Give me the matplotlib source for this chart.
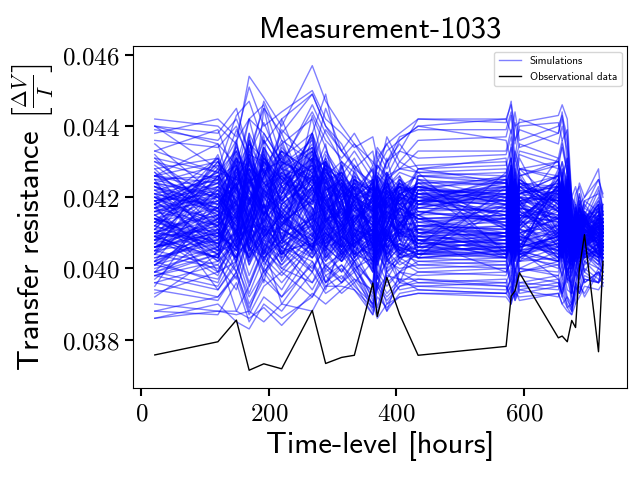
import matplotlib
matplotlib.use("Agg")
import matplotlib.pyplot as plt
import numpy as np

plt.rcParams['mathtext.fontset'] = 'cm'
plt.rcParams['axes.formatter.use_mathtext'] = True
plt.rcParams['axes.unicode_minus'] = False

# measurement times [hours]
hours = np.array([21, 120, 149, 169, 192, 220, 268, 289, 314, 334, 363, 370, 385, 405,
                  434, 572, 580, 586, 593, 654, 660, 668, 675, 681, 687, 695, 717, 724])

# observational transfer resistance (units of 1e-5)
obs = np.array([3757, 3794, 3855, 3714, 3732, 3718, 3882, 3733, 3750, 3756, 3959, 3865, 3975, 3871,
                3756, 3781, 3922, 3937, 3988, 3805, 3810, 3794, 3854, 3834, 4000, 4095, 3766, 4020]) * 1e-5

# simulated transfer resistance, one row per simulation (units of 1e-5)
sims = np.array([
    [4160,4210,4120,4230,4080,4180,4250,4130,4170,4110,4090,4150,4200,4130,4160,4140,4180,4090,4170,4150,4110,4190,4080,4120,4060,4140,4100,4090],
    [4030,4080,4150,4010,4120,4060,3990,4100,4040,4070,4120,3980,4060,4030,4050,4060,4010,4100,4040,4080,4130,4020,4010,4070,4110,4030,4060,4080],
    [4280,4310,4220,4360,4270,4330,4190,4290,4240,4200,4170,4260,4230,4270,4250,4230,4290,4210,4260,4300,4240,4200,4150,4100,4170,4120,4180,4140],
    [3960,4010,3940,4060,3990,3920,4050,3980,4010,3970,3940,4020,3960,3990,3980,3990,4030,3950,4000,3980,3940,3970,3920,4010,3980,4040,4000,3990],
    [4400,4380,4450,4320,4410,4290,4460,4380,4300,4270,4200,4310,4260,4330,4420,4410,4470,4350,4420,4380,4440,4300,4180,4150,4200,4130,4220,4170],
    [3880,3870,3960,3850,3920,3880,3990,3930,3960,3990,3880,3950,3910,3950,3960,3950,3920,3990,3940,3960,3930,3900,3880,3960,3930,3980,3960,4010],
    [4120,4060,4180,4090,4230,4110,4050,4170,4120,4080,4150,4040,4110,4160,4100,4110,4060,4150,4080,4120,4070,4140,4040,4090,4130,4070,4110,4060],
    [4180,4240,4290,4150,4320,4210,4380,4240,4190,4230,4180,4110,4220,4170,4200,4190,4240,4160,4210,4240,4190,4260,4110,4160,4100,4180,4130,4160],
    [4020,3960,4080,4120,3990,4060,4020,3960,4050,4000,3920,4070,4020,4000,4010,4020,3980,4060,3990,4010,4060,3960,3990,4030,3970,4010,4050,4020],
    [4330,4270,4360,4420,4260,4390,4300,4450,4330,4280,4240,4190,4300,4350,4280,4290,4340,4260,4320,4280,4350,4270,4200,4140,4190,4150,4120,4180],
    [4100,4150,4070,4200,4130,4260,4170,4080,4140,4190,4060,4130,4170,4090,4120,4130,4180,4100,4150,4110,4170,4080,4120,4060,4100,4140,4080,4120],
    [3930,3990,4020,3900,3980,4050,3940,4010,3970,4020,3960,3890,3990,3940,3950,3960,3910,4000,3950,3970,3920,3990,3950,3900,4020,3960,3990,3950],
    [4210,4160,4240,4130,4280,4190,4320,4150,4230,4170,4210,4140,4080,4200,4180,4170,4230,4140,4200,4160,4220,4130,4070,4130,4080,4160,4110,4090],
    [4060,4110,4020,4170,4060,4120,4210,4030,4090,4060,4130,4010,4100,4040,4070,4080,4040,4120,4060,4090,4030,4110,4020,4080,4050,4100,4070,4040],
    [4420,4400,4350,4540,4480,4400,4570,4470,4400,4350,4300,4280,4330,4360,4400,4420,4380,4440,4360,4400,4430,4370,4200,4230,4180,4200,4280,4150],
    [3860,3900,3850,3830,3900,3860,3920,3980,3930,3960,3870,3940,3880,3930,3940,3930,3950,3910,3940,3920,3960,3890,3870,3930,3960,3920,3990,3970],
    [4240,4200,4310,4180,4260,4330,4230,4280,4190,4240,4160,4250,4200,4230,4220,4210,4250,4180,4240,4220,4180,4250,4130,4080,4140,4100,4170,4130],
    [4000,4050,4100,3980,4080,4010,4130,4050,3990,4060,4010,4090,3970,4030,4040,4030,4080,4000,4050,4020,4070,3990,4030,3980,4080,4040,4010,4060],
    [4170,4120,4190,4250,4150,4080,4200,4130,4180,4120,4060,4180,4130,4170,4140,4150,4100,4190,4120,4160,4100,4170,4060,4110,4060,4120,4150,4100],
    [4260,4300,4230,4380,4290,4350,4420,4270,4230,4290,4210,4270,4240,4300,4270,4260,4310,4220,4280,4250,4300,4220,4160,4120,4180,4110,4150,4130],
    [3960,3920,3990,3880,4000,3940,4080,3960,4000,3950,3900,3980,3930,3970,3940,3930,3980,3920,3960,3950,3990,3920,3900,3960,3940,4000,3970,3960],
    [4080,4130,4060,4110,4180,4040,4150,4090,4120,4070,4110,4150,4060,4100,4090,4100,4140,4060,4110,4080,4120,4050,4100,4060,4120,4080,4050,4100],
    [4360,4340,4400,4300,4470,4360,4300,4390,4330,4290,4230,4300,4350,4280,4330,4330,4390,4300,4350,4310,4360,4280,4190,4150,4210,4130,4180,4140],
    [3990,4040,3970,4090,4020,3960,4060,4010,4040,3990,4060,3970,4020,4060,4010,4000,4050,3980,4030,4010,3980,4040,3980,4030,4000,4050,4020,3990],
    [4140,4190,4230,4100,4210,4160,4270,4180,4120,4170,4230,4100,4160,4140,4160,4170,4120,4200,4140,4180,4130,4200,4100,4050,4110,4070,4130,4110],
    [4090,4030,4140,4060,4000,4130,4080,4150,4050,4100,3990,4080,4120,4050,4060,4050,4090,4020,4070,4040,4090,4010,4040,4090,4030,4070,4100,4060],
    [4220,4260,4190,4320,4240,4290,4360,4210,4270,4220,4280,4190,4240,4210,4240,4250,4200,4280,4230,4260,4210,4280,4140,4100,4150,4090,4140,4120],
    [4010,3970,4060,3950,4050,4000,3960,4040,3990,4030,3950,4050,3990,4020,3990,3980,4030,3960,4000,3990,4040,3970,3960,4000,4050,3990,3960,4030],
    [4130,4090,4160,4070,4150,4220,4100,4190,4100,4140,4090,4020,4130,4100,4110,4120,4070,4150,4100,4140,4080,4150,4080,4130,4090,4110,4070,4130],
    [4170,4220,4150,4280,4200,4140,4250,4190,4230,4170,4120,4210,4170,4210,4190,4200,4160,4230,4180,4220,4170,4240,4090,4140,4100,4150,4090,4140],
    [4050,4010,4090,4030,4110,4000,4070,4020,4070,4020,4080,3970,4050,4010,4040,4050,4010,4080,4020,4060,4010,4080,4010,4070,4020,4060,4030,4070],
    [4380,4420,4370,4510,4400,4440,4500,4420,4380,4340,4370,4310,4350,4380,4420,4420,4460,4400,4410,4430,4460,4420,4200,4180,4240,4200,4250,4210],
    [3900,3880,3880,3860,3890,3840,3930,3900,3940,3970,3900,3860,3900,3920,3930,3920,3900,3940,3910,3930,3900,3880,3870,3900,3920,3950,3940,3960],
    [4110,4150,4190,4060,4180,4120,4230,4140,4160,4100,4140,4070,4150,4120,4130,4140,4190,4100,4150,4130,4170,4110,4050,4100,4140,4080,4120,4070],
    [4300,4250,4340,4260,4380,4300,4240,4330,4260,4310,4200,4290,4250,4280,4270,4280,4230,4310,4260,4290,4250,4310,4150,4110,4170,4140,4190,4150],
    [4040,4000,4060,4120,4010,4080,4030,4090,4020,4050,4000,4090,4030,3990,4020,4030,4070,3990,4040,4000,4060,3980,4000,4050,3990,4040,4070,4000],
    [4230,4180,4260,4190,4300,4230,4310,4200,4250,4200,4240,4170,4210,4250,4210,4220,4270,4190,4230,4210,4260,4180,4120,4160,4110,4170,4140,4110],
    [4100,4070,4030,4160,4090,4150,4060,4120,4080,4040,4100,4060,4090,4130,4080,4070,4110,4040,4090,4070,4030,4110,4030,4080,4130,4060,4040,4090],
    [3990,3950,4040,3930,4030,3980,4070,3960,4010,3960,4020,3940,3980,3970,3970,3960,4000,3940,3980,3960,3930,4000,3940,3990,3970,4020,3980,4010],
    [4150,4200,4140,4250,4170,4230,4180,4260,4170,4130,4200,4120,4180,4150,4170,4160,4210,4130,4190,4170,4210,4140,4090,4040,4100,4060,4110,4080],
    [4260,4220,4280,4170,4310,4250,4330,4240,4210,4250,4190,4240,4270,4210,4230,4240,4280,4200,4240,4230,4200,4260,4160,4120,4170,4130,4200,4150],
    [4080,4120,4170,4070,4140,4190,4110,4060,4110,4150,4080,4160,4090,4120,4100,4090,4130,4070,4120,4100,4140,4060,4060,4120,4080,4130,4100,4060],
    [3940,3910,3990,3890,3970,3920,4010,3950,3980,3940,3890,3960,3920,3960,3950,3940,3970,3910,3950,3940,3970,3910,3890,3950,3930,3970,3960,3980],
    [4070,4030,4110,4010,4090,4040,4170,4060,4020,4080,4030,4100,4040,4070,4050,4060,4020,4090,4050,4070,4030,4090,4000,4060,4030,4080,4040,4020],
    [4400,4350,4290,4420,4380,4300,4440,4360,4310,4350,4270,4240,4300,4330,4310,4320,4370,4280,4330,4300,4340,4270,4170,4130,4190,4120,4160,4180],
    [4130,4170,4100,4260,4160,4110,4230,4180,4140,4180,4120,4190,4140,4170,4150,4160,4120,4200,4140,4170,4130,4190,4060,4110,4070,4130,4090,4120],
    [3980,4020,4070,3960,4060,3990,4100,4000,4050,4010,3960,4040,4000,4030,4000,4010,3970,4040,3990,4020,4060,3970,3980,4040,4010,4060,4030,3990],
    [4240,4290,4220,4350,4270,4210,4380,4280,4250,4200,4250,4160,4260,4230,4260,4270,4310,4240,4280,4260,4300,4230,4140,4180,4130,4190,4160,4130],
    [4140,4100,4210,4120,4060,4170,4090,4160,4110,4150,4040,4130,4160,4100,4120,4110,4150,4080,4130,4120,4090,4160,4070,4120,4160,4090,4130,4100],
    [3860,3880,3870,3880,3850,3900,3880,3950,3950,3940,3870,3920,3890,3920,3930,3930,3910,3930,3920,3930,3900,3920,3880,3940,3950,3930,4000,3990],
    [4390,4360,4420,4330,4450,4380,4490,4400,4330,4380,4290,4340,4300,4370,4390,4390,4440,4360,4390,4350,4400,4330,4190,4160,4210,4150,4230,4160],
    [4060,4100,4050,4130,4040,4100,4140,4070,4110,4060,4120,4040,4080,4110,4080,4090,4050,4120,4080,4100,4050,4120,4050,4100,4060,4110,4080,4050],
    [4190,4230,4180,4280,4220,4170,4260,4200,4240,4190,4230,4160,4200,4230,4200,4210,4170,4240,4190,4220,4180,4230,4110,4150,4090,4160,4120,4150],
    [3980,3940,4010,3920,3990,4050,3960,4010,3960,4000,3930,3990,3950,3990,3960,3970,3930,4000,3960,3980,4010,3940,3930,3980,4010,3960,3990,3970],
    [4160,4120,4180,4100,4200,4130,4190,4110,4170,4120,4180,4090,4140,4170,4140,4150,4190,4110,4160,4140,4180,4110,4060,4110,4070,4130,4090,4130],
    [4010,4060,3990,4090,4030,4080,4000,4060,4020,4070,3990,4060,4010,4040,4030,4020,4070,3990,4040,4020,4050,3990,4020,4060,4000,4050,4010,4040],
    [4310,4270,4330,4240,4360,4280,4340,4260,4300,4250,4220,4290,4260,4280,4290,4300,4250,4330,4280,4300,4260,4310,4170,4130,4180,4140,4170,4130],
    [4090,4140,4060,4190,4100,4160,4050,4130,4090,4130,4070,4120,4080,4110,4110,4100,4140,4070,4110,4090,4130,4060,4080,4040,4110,4070,4120,4080],
    [4210,4170,4240,4150,4220,4180,4260,4190,4130,4080,4020,3870,4000,4120,4190,4180,4230,4150,4200,4190,4160,4220,3900,3950,4050,4100,4140,4110],
    [4060,4100,4030,4150,4070,4010,4090,4140,4060,4020,3890,3960,3880,3990,4050,4040,3930,4060,4020,4030,3970,4050,3880,3960,4000,4050,4080,4030],
    [4210,4050,4290,4120,4330,4080,4260,4350,4110,4180,4020,4210,4090,4180,4230,4050,4220,4130,4060,4190,4240,4100,4010,4140,4090,4060,4150,4080],
    [4020,4230,4110,4310,4150,4270,4090,4180,4240,4060,4170,4080,4220,4100,4070,4200,4090,4230,4180,4070,4130,4220,4130,4050,4130,4140,4030,4120],
    [4280,4110,4050,4190,4260,4380,4170,4100,4290,4200,4100,4250,4050,4130,4210,4120,4290,4060,4210,4260,4050,4170,4070,4110,4040,4080,4120,4060],
    [3990,4180,4240,4050,4100,4210,4330,4260,4070,4130,4230,3990,4180,4240,4050,4180,4020,4170,4100,4140,4270,4040,4120,4020,4160,4120,4070,4140],
    [4120,4290,4160,4380,4090,4150,4230,4050,4180,4270,4060,4150,4260,4080,4150,4030,4170,4240,4050,4220,4100,4230,4050,4130,4080,4030,4180,4100],
    [4250,3990,4110,4230,4370,4020,4150,4300,4190,4090,4170,4060,4120,4200,4280,4240,4110,4030,4260,4080,4180,4060,4100,4060,4140,4150,4060,4070],
    [4060,4140,4320,4100,4200,4290,4040,4180,4120,4230,4000,4190,4130,4050,4120,4140,4260,4150,4090,4170,4230,4120,4020,4170,4060,4100,4130,4110],
    [4190,4070,4200,4280,4040,4180,4380,4220,4030,4140,4190,4090,4240,4170,4040,4070,4180,4210,4140,4030,4150,4190,4140,4090,4110,4070,4090,4050],
    [3950,4210,4080,4150,4300,4250,4120,4310,4160,4070,4110,4220,4030,4120,4190,4190,4050,4100,4230,4140,4060,4260,4060,4030,4150,4120,4160,4100],
    [4320,4130,4230,4040,4180,4330,4270,4090,4220,4160,4050,4030,4170,4230,4100,4100,4230,4040,4120,4250,4190,4040,4110,4150,4070,4090,4040,4130],
    [4080,4260,4140,4270,4110,4040,4190,4280,4060,4200,4240,4140,4080,4060,4260,4250,4080,4190,4070,4110,4210,4140,4030,4100,4120,4140,4100,4070],
    [4170,4020,4270,4190,4240,4200,4060,4150,4300,4110,4080,4180,4210,4150,4080,4030,4140,4280,4190,4060,4100,4210,4090,4060,4040,4060,4140,4110],
    [4230,4170,4010,4330,4160,4110,4300,4190,4100,4250,4150,4070,4120,4250,4170,4160,4310,4080,4150,4200,4040,4090,4160,4120,4170,4110,4080,4040],
    [4040,4320,4180,4090,4260,4360,4150,4040,4190,4090,4200,4230,4160,4090,4220,4220,4040,4160,4270,4090,4220,4170,4040,4070,4090,4130,4170,4090],
    [4140,4090,4260,4200,4060,4240,4350,4230,4130,4170,4030,4100,4270,4200,4110,4080,4200,4110,4040,4280,4140,4030,4080,4170,4140,4050,4060,4120],
    [4300,4190,4120,4050,4340,4170,4080,4320,4250,4040,4160,4200,4020,4130,4060,4270,4130,4250,4180,4150,4070,4240,4120,4040,4060,4100,4110,4060],
    [4010,4140,4350,4220,4140,4070,4260,4110,4060,4220,4250,4050,4150,4190,4230,4140,4250,4030,4140,4040,4250,4110,4020,4090,4180,4080,4150,4130],
    [4260,4240,4090,4310,4210,4300,4130,4160,4210,4130,4090,4260,4220,4040,4140,4050,4100,4200,4220,4190,4120,4060,4150,4130,4100,4160,4030,4080],
    [4090,4030,4230,4130,4280,4190,4310,4050,4280,4070,4180,4120,4080,4210,4090,4210,4170,4140,4080,4230,4190,4180,4070,4060,4070,4040,4120,4100],
    [4180,4270,4150,4260,4020,4120,4210,4290,4150,4190,4040,4170,4250,4110,4250,4120,4040,4260,4160,4100,4030,4230,4100,4110,4150,4130,4090,4060],
    [3970,4110,4300,4080,4230,4260,4140,4200,4080,4260,4220,4060,4110,4160,4150,4060,4230,4070,4250,4160,4260,4050,4030,4180,4050,4070,4140,4120],
    [4240,4160,4060,4370,4120,4050,4290,4130,4230,4100,4070,4230,4180,4080,4030,4230,4120,4180,4110,4050,4160,4200,4140,4040,4120,4110,4070,4090],
    [4110,4300,4210,4140,4310,4230,4050,4250,4110,4150,4130,4110,4040,4230,4200,4150,4060,4220,4040,4270,4090,4130,4080,4140,4090,4150,4160,4050],
    [4050,4080,4280,4250,4150,4340,4240,4070,4170,4030,4210,4190,4270,4140,4080,4100,4280,4050,4190,4120,4220,4090,4050,4070,4170,4090,4100,4140],
    [4350,4200,4140,4180,4250,4090,4370,4180,4260,4220,4060,4080,4150,4200,4270,4040,4150,4240,4130,4030,4080,4250,4120,4100,4060,4070,4050,4070],
    [4150,4050,4240,4060,4360,4280,4130,4300,4060,4120,4250,4150,4190,4050,4180,4260,4070,4130,4280,4180,4140,4040,4040,4160,4130,4120,4140,4110],
    [4070,4220,4100,4300,4180,4030,4230,4140,4290,4180,4100,4240,4060,4170,4040,4170,4210,4090,4060,4240,4280,4160,4090,4030,4110,4060,4090,4080],
    [4200,4120,4330,4170,4040,4210,4290,4210,4130,4060,4150,4010,4230,4260,4120,4090,4110,4270,4170,4060,4050,4220,4150,4090,4070,4140,4180,4040],
    [4130,4310,4070,4230,4270,4150,4060,4080,4200,4240,4080,4200,4130,4100,4240,4240,4180,4020,4200,4140,4170,4070,4060,4150,4160,4080,4040,4120],
    [4270,4060,4190,4110,4130,4320,4200,4260,4040,4160,4190,4130,4210,4190,4060,4050,4300,4160,4050,4210,4110,4190,4100,4120,4040,4050,4130,4080],
    [3880,3920,3980,3870,3950,3990,3920,4000,3960,4020,3910,3980,3900,3950,3970,3950,3900,3980,3930,3950,3920,3890,3900,3950,3930,3970,3960,3980],
    [4400,4280,4430,4470,4350,4420,4490,4400,4350,4280,4330,4250,4370,4300,4360,4370,4430,4310,4400,4410,4360,4390,4150,4210,4230,4170,4250,4200],
    [3920,4040,3880,3950,4060,3900,4020,3940,4080,3990,3900,3950,4030,3960,3990,4000,3960,3920,4050,3970,3930,4020,3930,3990,3960,4020,4000,4030],
    [4330,4390,4250,4420,4460,4310,4380,4490,4280,4330,4250,4330,4280,4360,4400,4360,4300,4410,4340,4380,4420,4350,4200,4170,4130,4190,4210,4150],
    [4100,4160,4360,4190,4090,4420,4210,4150,4080,4200,4280,4090,4120,4210,4160,4130,4190,4060,4140,4230,4060,4180,3930,4080,4110,4150,4140,4110],
    [4180,3940,4020,4260,4170,4090,3990,4070,4190,4050,3950,4160,3990,4040,4020,4010,4100,4180,4000,4050,4170,3970,4070,3990,4100,4070,4020,4070],
    [4260,4350,4170,4090,4450,4230,4290,4170,4120,4280,4160,4210,4310,4170,4280,4310,4140,4240,4310,4100,4280,4210,4180,4100,4060,4120,4180,4100],
    [4020,4110,3990,4100,3960,4180,4120,3990,4030,4100,3990,4050,4070,3960,4080,3990,4020,4090,4020,4130,3990,4080,3950,4040,4050,3990,4060,4030],
    [4200,4250,4390,4310,4180,4060,4430,4340,4220,4190,4290,4240,4140,4260,4180,4190,4350,4270,4160,4310,4140,4290,4110,4090,4170,4110,4190,4160],
    [4090,3980,4100,4030,4220,4140,4050,4230,4150,4000,4030,3940,4110,4030,4110,4040,4000,4120,4050,4020,4110,4000,4000,4050,4020,4070,4080,4010],
    [4150,4240,4190,4080,4310,4140,4220,4180,4100,4210,4150,4080,4190,4110,4170,4210,4130,4160,4220,4110,4190,4140,4070,4120,4090,4110,4060,4100],
    [4220,4100,4270,4210,4150,4250,4180,4280,4170,4090,4120,4190,4100,4170,4130,4090,4200,4230,4110,4200,4130,4070,4110,4050,4120,4080,4140,4090],
    [4080,4190,4130,4300,4220,4080,4310,4130,4210,4160,4200,4120,4230,4140,4200,4150,4240,4090,4170,4140,4240,4180,4060,4100,4080,4130,4100,4120],
    [4190,4060,4220,4160,4260,4310,4110,4210,4140,4230,4070,4230,4150,4080,4110,4180,4070,4200,4140,4230,4080,4200,4090,4140,4060,4090,4120,4070],
    [4110,4280,4090,4240,4170,4200,4260,4090,4240,4120,4190,4050,4200,4190,4240,4110,4220,4140,4080,4150,4200,4120,4130,4080,4140,4140,4080,4110],
    [4270,4150,4310,4130,4210,4160,4240,4240,4080,4200,4130,4160,4090,4220,4150,4230,4150,4060,4190,4090,4160,4240,4050,4130,4100,4060,4130,4090],
    [4040,4210,4160,4270,4090,4230,4150,4170,4190,4080,4250,4120,4160,4130,4090,4080,4190,4250,4150,4210,4110,4090,4100,4060,4050,4120,4110,4130],
    [4200,4130,4250,4180,4290,4120,4330,4140,4150,4230,4050,4210,4250,4080,4220,4260,4100,4180,4230,4160,4210,4150,4080,4150,4130,4100,4070,4080],
    [4130,4250,4070,4340,4200,4270,4210,4270,4220,4140,4180,4090,4120,4240,4180,4160,4240,4120,4060,4240,4140,4190,4140,4070,4090,4140,4150,4100],
    [4240,4080,4200,4120,4240,4190,4280,4110,4120,4190,4140,4200,4180,4130,4120,4110,4170,4220,4180,4100,4260,4110,4060,4110,4150,4080,4090,4120],
    [4060,4170,4280,4220,4150,4350,4160,4220,4250,4110,4090,4170,4220,4160,4230,4200,4090,4170,4200,4190,4090,4220,4110,4140,4070,4110,4130,4060],
    [4180,4310,4140,4090,4320,4180,4250,4190,4090,4240,4220,4110,4080,4210,4100,4140,4210,4130,4150,4130,4180,4170,4070,4090,4110,4150,4060,4110],
    [4310,4140,4230,4290,4110,4240,4370,4150,4190,4160,4120,4250,4150,4090,4260,4240,4140,4190,4120,4220,4230,4100,4130,4060,4130,4070,4140,4090],
    [4100,4220,4180,4150,4260,4130,4190,4300,4130,4090,4210,4140,4240,4180,4140,4090,4260,4100,4240,4170,4120,4230,4090,4120,4080,4100,4110,4130],
    [4200,4090,4350,4210,4190,4290,4140,4230,4200,4210,4100,4180,4120,4250,4190,4180,4120,4250,4160,4090,4200,4140,4050,4150,4140,4120,4080,4080],
    [4050,4260,4210,4320,4130,4200,4300,4160,4060,4140,4170,4060,4200,4120,4210,4230,4180,4150,4210,4260,4150,4080,4120,4070,4100,4130,4160,4110],
    [4260,4180,4120,4240,4280,4080,4220,4260,4170,4250,4060,4220,4170,4200,4100,4120,4230,4080,4130,4140,4250,4190,4080,4110,4060,4090,4100,4070],
    [4140,4040,4260,4190,4340,4250,4170,4120,4230,4100,4230,4130,4090,4140,4250,4200,4080,4230,4190,4200,4070,4160,4100,4130,4120,4140,4070,4120],
    [4170,4200,4090,4360,4180,4150,4280,4200,4110,4170,4140,4260,4210,4230,4160,4130,4200,4160,4100,4120,4190,4210,4070,4090,4150,4080,4130,4090],
    [4090,4300,4230,4130,4220,4320,4110,4250,4270,4130,4190,4080,4140,4100,4190,4250,4160,4110,4250,4180,4220,4100,4110,4060,4090,4120,4090,4140],
    [4230,4120,4310,4260,4150,4210,4340,4120,4160,4220,4090,4190,4260,4190,4130,4150,4290,4220,4130,4230,4140,4230,4140,4120,4070,4060,4120,4080],
    [4120,4230,4200,4180,4330,4140,4230,4290,4200,4060,4260,4110,4190,4120,4220,4110,4120,4190,4180,4080,4190,4140,4060,4080,4140,4100,4150,4100],
    [4290,4160,4140,4280,4210,4260,4190,4200,4130,4180,4120,4240,4100,4200,4170,4210,4210,4140,4230,4160,4240,4170,4100,4150,4110,4130,4060,4120],
    [4070,4280,4250,4200,4120,4300,4250,4160,4210,4200,4160,4150,4230,4150,4140,4140,4160,4250,4110,4210,4100,4120,4090,4060,4080,4150,4110,4090],
    [4180,4140,4180,4310,4240,4150,4310,4230,4180,4130,4200,4090,4180,4240,4210,4170,4230,4120,4170,4140,4210,4200,4070,4110,4120,4090,4140,4100],
    [4250,4260,4100,4220,4170,4280,4150,4270,4240,4170,4130,4230,4140,4100,4180,4230,4090,4200,4210,4190,4160,4130,4120,4140,4060,4110,4080,4130],
    [4140,4070,4290,4150,4300,4190,4270,4140,4120,4250,4210,4120,4200,4180,4140,4100,4200,4240,4130,4250,4140,4220,4080,4070,4130,4140,4120,4070],
    [4210,4250,4160,4250,4200,4240,4220,4190,4220,4110,4150,4210,4120,4220,4230,4190,4250,4150,4200,4130,4230,4150,4100,4130,4090,4070,4100,4110],
    [4100,4170,4220,4190,4270,4120,4300,4250,4150,4190,4100,4170,4250,4130,4150,4250,4140,4180,4240,4170,4110,4190,4130,4090,4110,4120,4140,4090],
    [4190,4210,4130,4300,4150,4270,4190,4170,4260,4140,4240,4140,4160,4210,4190,4120,4220,4210,4120,4220,4200,4120,4060,4150,4140,4100,4060,4120],
    [4080,4030,4120,4060,4140,4040,4110,4070,4100,4040,4070,4010,4090,4050,4080,4070,4030,4100,4060,4090,4040,4070,4020,4060,4050,4080,4040,4070],
    [4010,4100,4050,4130,4030,4110,4060,4140,4040,4090,4020,4080,4040,4100,4030,4040,4090,4030,4100,4030,4080,4030,4050,4020,4080,4040,4070,4030],
    [4110,4040,4160,4020,4090,4150,4030,4080,4110,4030,4090,4040,4110,4020,4090,4100,4050,4080,4030,4110,4060,4100,3990,4080,4030,4060,4090,4050],
    [4040,4140,4020,4100,4160,4060,4130,4030,4080,4120,4000,4110,4060,4080,4050,4030,4110,4060,4080,4050,4100,4010,4060,4040,4060,4030,4050,4080],
    [4130,4070,4100,4150,4050,4130,4080,4120,4020,4080,4110,4030,4080,4130,4070,4080,4040,4110,4050,4070,4020,4090,4030,4070,4020,4090,4060,4040],
    [3990,4060,4140,4030,4120,4020,4160,4060,4130,4040,4060,4090,4020,4060,4040,4060,4080,4020,4090,4060,4070,4040,4000,4050,4070,4050,4020,4060],
    [4070,4120,4030,4090,4040,4140,4070,4100,4060,4110,4030,4060,4120,4040,4100,4050,4110,4070,4040,4100,4030,4080,4050,4010,4040,4080,4080,4050],
    [4100,3990,4090,4140,4080,4060,4120,4020,4090,4060,4100,4020,4070,4110,4060,4090,4030,4090,4070,4040,4090,4060,4020,4080,4060,4020,4060,4070],
    [4020,4090,4160,4050,4110,4100,4040,4130,4030,4080,4050,4100,4030,4070,4040,4040,4100,4050,4030,4080,4060,4020,4040,4050,4090,4060,4040,4030],
    [4120,4050,4070,4110,4020,4150,4090,4060,4120,4030,4080,4050,4100,4040,4090,4070,4060,4120,4080,4060,4040,4090,4060,4030,4030,4070,4090,4060],
    [4060,4130,4110,4020,4150,4070,4140,4100,4050,4100,4020,4070,4060,4100,4060,4100,4040,4060,4100,4020,4080,4050,4030,4070,4070,4040,4050,4080],
    [3980,4040,4080,4120,4070,4030,4100,4030,4110,4050,4090,4030,4090,4050,4030,4050,4080,4030,4050,4090,4050,4070,4040,4040,4050,4090,4070,4040],
    [4090,4110,4030,4080,4120,4110,4060,4140,4070,4020,4060,4100,4040,4080,4080,4030,4090,4080,4040,4060,4100,4030,4010,4090,4040,4050,4030,4060],
    [4030,4070,4130,4060,4030,4080,4150,4080,4030,4090,4110,4040,4110,4030,4050,4080,4050,4040,4090,4050,4030,4080,4050,4050,4080,4030,4060,4050],
    [4140,4020,4090,4150,4100,4040,4080,4050,4090,4060,4040,4080,4050,4100,4070,4060,4070,4100,4060,4080,4060,4040,4030,4060,4030,4070,4080,4070],
    [4050,4150,4060,4040,4090,4120,4030,4110,4050,4110,4070,4020,4080,4060,4040,4090,4030,4070,4030,4100,4070,4060,4070,4020,4060,4040,4050,4040],
    [4100,4080,4150,4100,4050,4090,4120,4040,4100,4040,4020,4090,4030,4090,4090,4040,4080,4050,4080,4030,4090,4050,4020,4040,4070,4060,4030,4060],
    [4010,4120,4040,4080,4130,4050,4070,4100,4060,4070,4100,4050,4100,4040,4060,4070,4060,4090,4040,4070,4040,4080,4040,4070,4040,4050,4070,4050],
    [4150,4040,4110,4030,4080,4160,4060,4090,4040,4090,4060,4110,4060,4070,4030,4050,4100,4030,4070,4050,4080,4030,4060,4030,4060,4080,4060,4030],
    [4060,4090,4060,4130,4110,4070,4140,4060,4080,4030,4090,4040,4070,4110,4070,4060,4040,4080,4060,4090,4050,4070,4030,4080,4050,4030,4040,4070],
    [4200,4180,4260,4300,4230,4280,4250,4310,4220,4190,4160,4200,4220,4180,4210,4200,4240,4190,4220,4210,4180,4200,4100,4110,4090,4110,4100,4090],
    [4160,4230,4310,4240,4290,4220,4320,4240,4270,4220,4200,4170,4190,4230,4180,4220,4190,4240,4180,4250,4220,4170,4090,4130,4110,4090,4120,4110],
    [4230,4150,4240,4330,4270,4310,4230,4280,4200,4240,4180,4220,4210,4160,4230,4180,4230,4210,4240,4190,4230,4210,4120,4090,4100,4120,4090,4120],
    [4170,4260,4290,4220,4340,4260,4290,4220,4250,4180,4230,4190,4240,4200,4190,4240,4200,4170,4210,4230,4200,4240,4100,4140,4120,4100,4110,4100],
    [4250,4200,4230,4280,4250,4330,4270,4300,4230,4210,4190,4240,4180,4220,4220,4210,4250,4230,4190,4220,4250,4190,4110,4100,4090,4130,4100,4110],
    [4190,4240,4330,4260,4220,4290,4340,4260,4210,4260,4150,4210,4230,4190,4240,4190,4210,4200,4250,4180,4210,4220,4130,4120,4110,4100,4120,4090],
    [4220,4170,4270,4320,4300,4240,4310,4290,4260,4190,4220,4180,4200,4240,4200,4230,4180,4250,4200,4240,4190,4250,4090,4110,4100,4110,4090,4120],
    [4180,4270,4250,4240,4280,4300,4260,4250,4190,4230,4200,4230,4170,4210,4230,4180,4240,4180,4230,4200,4240,4180,4120,4090,4120,4090,4110,4100],
    [4240,4210,4300,4290,4240,4270,4330,4220,4240,4200,4170,4200,4230,4180,4190,4220,4200,4220,4210,4230,4180,4230,4100,4130,4100,4120,4100,4090],
    [4160,4190,4280,4350,4310,4250,4280,4300,4230,4250,4210,4170,4190,4230,4210,4190,4250,4190,4180,4210,4220,4200,4110,4100,4130,4100,4120,4110],
]) * 1e-5

sans = dict(family='cmss10')

fig, ax = plt.subplots(figsize=(6.4, 4.8), dpi=100)
fig.subplots_adjust(left=0.208, right=0.980, top=0.904, bottom=0.192)

for i, row in enumerate(sims):
    ax.plot(hours, row, color='blue', alpha=0.5, linewidth=1,
            label='Simulations' if i == 0 else None)
ax.plot(hours, obs, color='black', linewidth=1, label='Observational data')

ax.set_xlim(-13, 762)
ax.set_ylim(0.036645, 0.04625)
ax.set_xticks([0, 200, 400, 600])
ax.set_yticks([0.038, 0.040, 0.042, 0.044, 0.046])
ax.set_yticklabels([r'$0.038$', r'$0.040$', r'$0.042$', r'$0.044$', r'$0.046$'])
ax.set_xticklabels([r'$0$', r'$200$', r'$400$', r'$600$'])
ax.tick_params(labelsize=18, length=6, width=1.5)

ax.set_title('Measurement-1033', fontsize=22, **sans)
ax.set_xlabel('Time-level [hours]', fontsize=22, **sans)
ax.set_ylabel(r'Transfer resistance $\left[\frac{\Delta V}{I}\right]$', fontsize=22, **sans)

ax.legend(loc='upper right', prop={'family': 'cmss10', 'size': 8})

fig.savefig('out.png', dpi=100)
